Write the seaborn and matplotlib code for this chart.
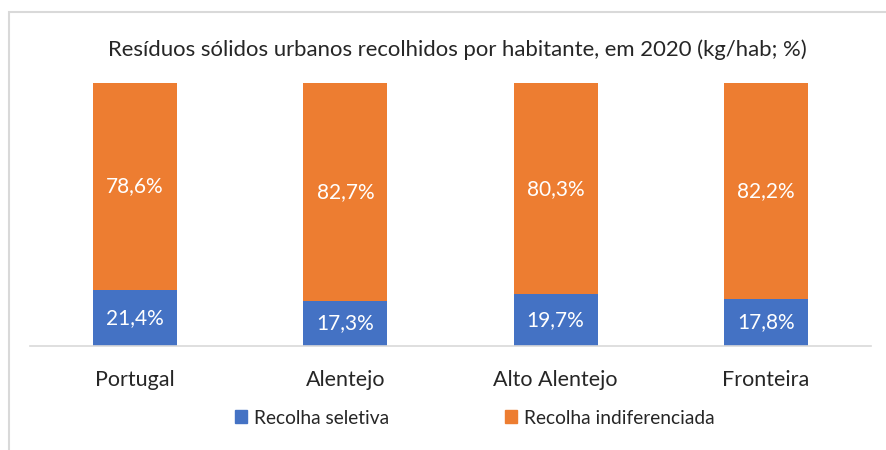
import seaborn as sns
import matplotlib.pyplot as plt
import pandas as pd
from matplotlib.patches import Patch, Rectangle

# Data
regioes = ['Portugal', 'Alentejo', 'Alto Alentejo', 'Fronteira']
seletiva = [21.4, 17.3, 19.7, 17.8]
indiferenciada = [78.6, 82.7, 80.3, 82.2]

titulo = 'Resíduos sólidos urbanos recolhidos por habitante, em 2020 (kg/hab; %)'
cor_seletiva = '#4472C4'
cor_indif = '#ED7D31'

df = pd.DataFrame({'Regiao': regioes, 'Seletiva': seletiva,
                   'Indiferenciada': indiferenciada})
df['Total'] = df['Seletiva'] + df['Indiferenciada']

sns.set_style('white')
plt.rcParams['font.family'] = ['Lato', 'DejaVu Sans']

fig = plt.figure(figsize=(8.87, 4.5), dpi=100)
ax = fig.add_axes([30 / 887, 1 - 346 / 450, 841 / 887, 263 / 450])

# stacked bars: full height in orange, selective share on top in blue
sns.barplot(data=df, x='Regiao', y='Total', color=cor_indif, width=0.4,
            saturation=1, ax=ax, edgecolor='none')
sns.barplot(data=df, x='Regiao', y='Seletiva', color=cor_seletiva, width=0.4,
            saturation=1, ax=ax, edgecolor='none')

for i, row in df.iterrows():
    ax.text(i, row['Seletiva'] / 2, f"{row['Seletiva']:.1f}%".replace('.', ','),
            ha='center', va='center', color='white', fontsize=15)
    ax.text(i, row['Seletiva'] + row['Indiferenciada'] / 2,
            f"{row['Indiferenciada']:.1f}%".replace('.', ','),
            ha='center', va='center', color='white', fontsize=15)

ax.set_xlim(-0.5, 3.5)
ax.set_ylim(0, 100)
ax.set_xlabel('')
ax.set_ylabel('')
ax.set_yticks([])
ax.tick_params(axis='x', length=0, labelsize=15.5, colors='#262626', pad=17)
for s in ['top', 'right', 'left']:
    ax.spines[s].set_visible(False)
ax.spines['bottom'].set_color('#d9d9d9')
ax.spines['bottom'].set_linewidth(1.2)

fig.text(0.516, 1 - 50 / 450, titulo, ha='center', va='center',
         fontsize=15.9, color='#262626')

handles = [Patch(color=cor_seletiva, label='Recolha seletiva'),
           Patch(color=cor_indif, label='Recolha indiferenciada')]
fig.legend(handles=handles, loc='center', bbox_to_anchor=(0.535, 1 - 418 / 450),
           ncol=2, frameon=False, fontsize=13.8, handlelength=0.65,
           handleheight=0.65, handletextpad=0.35, columnspacing=6.05,
           labelcolor='#262626')

# chart area border (only left and top visible in the crop)
fig.patches.append(Rectangle((9 / 887, -0.1), 1.0, 1 - 12 / 450 + 0.1,
                             transform=fig.transFigure, fill=False,
                             edgecolor='#d9d9d9', linewidth=1.5))

fig.savefig('out.png', dpi=100)
